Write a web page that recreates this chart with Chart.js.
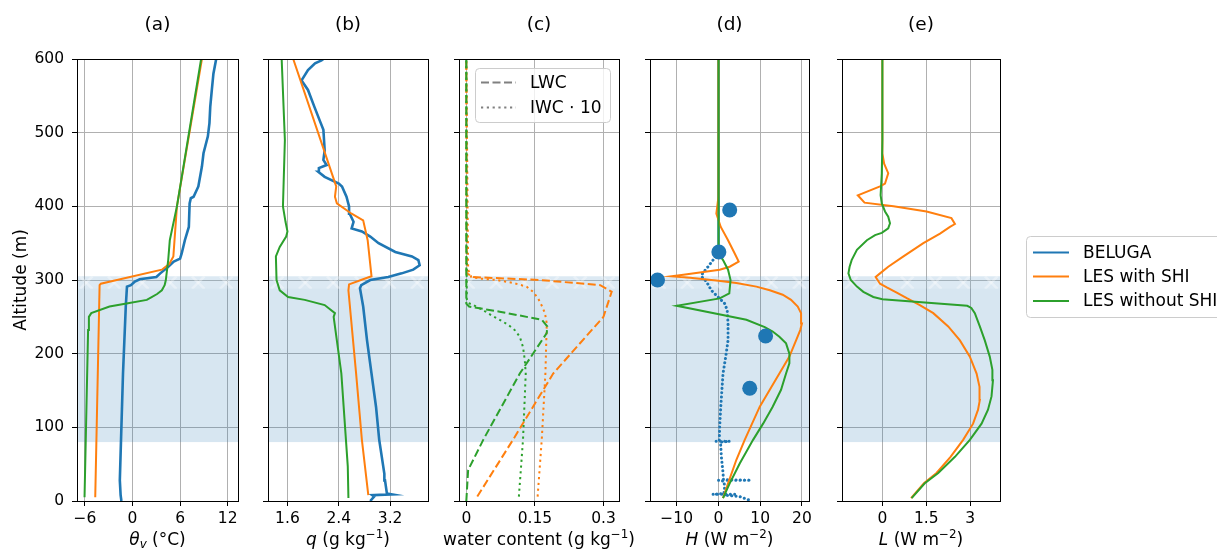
<!DOCTYPE html>
<html>
<head>
<meta charset="utf-8">
<script src="https://cdn.jsdelivr.net/npm/chart.js@4.4.1/dist/chart.umd.min.js"></script>
<style>
  html, body { margin: 0; padding: 0; background: #fff; }
  #wrap { position: relative; width: 1217px; height: 552px; overflow: hidden; }
  #wrap canvas { position: absolute; left: 0; top: 0; }
</style>
</head>
<body>
<div id="wrap"></div>
<script>
// altitude axis and cloud layer (m)
const altTicks = [0, 100, 200, 300, 400, 500, 600];
const cloudBase = 80, hatchBase = 288, cloudTop = 305;

// (a) virtual potential temperature
const thetaTicks = [-6, 0, 6, 12];
const belugaThetaZ = [0, 8, 28, 83, 173, 264, 291, 293, 298, 301, 304, 309, 318, 325, 329, 336, 354, 372, 404, 411, 413, 427, 454, 472, 495, 513, 535, 558, 580, 600];
const belugaThetaV = [-1.4, -1.5, -1.6, -1.45, -1.2, -0.85, -0.7, -0.2, 0.3, 0.9, 3.0, 3.5, 4.5, 5.2, 6.0, 6.2, 6.6, 7.1, 7.2, 7.35, 7.7, 8.3, 8.75, 8.95, 9.5, 9.7, 9.8, 10.0, 10.2, 10.55];
const shiThetaZ = [5, 293, 295, 314, 322, 332, 400, 600];
const shiThetaV = [-4.7, -4.15, -4.0, 3.7, 4.65, 5.15, 5.6, 8.75];
const noThetaZ = [5, 232, 250, 255, 264, 268, 273, 276, 281, 286, 293, 300, 327, 354, 400, 600];
const noThetaV = [-6.05, -5.6, -5.5, -5.2, -2.9, -0.75, 1.8, 2.3, 3.1, 3.7, 4.05, 4.2, 4.5, 4.7, 5.6, 8.65];

// (b) specific humidity
const qTicks = [1.6, 2.4, 3.2];
const belugaQZ = [0, 6, 8, 9, 10, 28, 37, 83, 128, 173, 218, 264, 289, 293, 300, 304, 309, 314, 320, 327, 332, 338, 350, 359, 366, 370, 379, 390, 400, 413, 427, 431, 440, 447, 452, 456, 463, 476, 504, 515, 535, 558, 571, 585, 594, 598, 600];
const belugaQV = [2.89, 2.95, 2.92, 3.22, 3.15, 3.12, 3.11, 3.03, 2.98, 2.91, 2.84, 2.78, 2.73, 2.75, 2.89, 3.17, 3.38, 3.56, 3.66, 3.64, 3.54, 3.28, 3.02, 2.89, 2.76, 2.60, 2.63, 2.57, 2.56, 2.52, 2.45, 2.40, 2.18, 2.08, 2.09, 2.21, 2.16, 2.18, 2.16, 2.11, 2.02, 1.92, 1.82, 1.92, 2.03, 2.13, 2.16];
const shiQZ = [8, 83, 173, 286, 294, 302, 305, 354, 381, 390, 404, 413, 427, 445, 600];
const shiQV = [2.86, 2.76, 2.67, 2.55, 2.56, 2.81, 2.91, 2.85, 2.78, 2.60, 2.37, 2.34, 2.36, 2.29, 1.69];
const noQZ = [4, 47, 173, 250, 255, 266, 273, 277, 286, 300, 332, 345, 359, 366, 379, 400, 490, 600];
const noQV = [2.55, 2.54, 2.44, 2.32, 2.34, 2.18, 1.87, 1.61, 1.48, 1.43, 1.42, 1.48, 1.58, 1.60, 1.57, 1.53, 1.56, 1.51];

// (c) water content (LWC dashed, IWC*10 dotted)
const wcTicks = [0, 0.15, 0.3];
const shiLwcZ = [6, 83, 173, 250, 284, 293, 300, 304, 309, 600];
const shiLwcV = [0.024, 0.102, 0.19, 0.30, 0.318, 0.293, 0.161, 0.015, 0.001, 0];
const shiIwcZ = [6, 83, 173, 241, 255, 264, 275, 284, 291, 296, 300, 302, 304, 314, 600];
const shiIwcV = [0.156, 0.165, 0.173, 0.176, 0.172, 0.166, 0.157, 0.146, 0.132, 0.102, 0.066, 0.029, 0.011, 0.004, 0];
const noLwcZ = [0, 42, 83, 173, 228, 237, 246, 257, 264, 268, 600];
const noLwcV = [0, 0.004, 0.037, 0.117, 0.176, 0.177, 0.165, 0.073, 0.006, 0, 0];
const noIwcZ = [6, 83, 173, 191, 209, 223, 232, 239, 246, 252, 259, 266, 269, 274, 600];
const noIwcV = [0.115, 0.124, 0.130, 0.128, 0.124, 0.117, 0.106, 0.092, 0.073, 0.055, 0.037, 0.015, 0.004, 0.001, 0];

// (d) sensible heat flux
const hTicks = [-10, 0, 10, 20];
const belugaHUpZ = [336, 354, 400, 450, 490, 530, 570, 600];
const belugaHUpV = [0, 0, 0, 0.05, 0.08, 0.05, 0.03, 0];
const belugaHLoZ = [336, 327, 318, 309, 305, 298, 286, 277, 268, 259, 241, 218, 196, 173, 128, 101, 82, 81, 81, 80, 60, 38, 29, 28, 28, 27, 19, 10, 9, 9, 8, 6, 1];
const belugaHLoV = [0, -1.3, -2.5, -3.8, -4.1, -2.9, -1.7, -0.1, 1.5, 2.1, 2.3, 2.3, 1.75, 1.1, 0.56, 0.3, 0.2, -0.6, 2.7, 0.5, 0.7, 1.1, 1.2, 7.8, 0.0, 1.3, 1.5, 1.3, -1.4, 3.9, 1.5, 5.1, 7.5];
const belugaHMeanZ = [395, 338, 300, 224, 153];
const belugaHMeanV = [2.7, 0.1, -14.6, 11.3, 7.5];
const shiHZ = [4, 24, 56, 83, 128, 173, 196, 218, 232, 241, 255, 264, 273, 280, 286, 291, 296, 299, 303, 305, 307, 314, 318, 325, 336, 354, 372, 390, 402, 413, 600];
const shiHV = [1.1, 2.3, 4.3, 6.3, 9.9, 14.6, 17.0, 18.6, 19.6, 20.0, 19.8, 19.0, 17.4, 15.4, 12.3, 9.1, 4.3, 0, -6.8, -11.2, -8.4, 0.3, 2.7, 4.85, 3.9, 2.3, 0.56, -0.5, -0.24, 0, 0];
const noHZ = [4, 24, 51, 83, 105, 128, 151, 173, 187, 200, 214, 223, 230, 236, 246, 265, 275, 282, 300, 314, 327, 336, 354, 400, 600];
const noHV = [1.1, 2.7, 5.1, 8.3, 10.7, 13.0, 15.0, 16.2, 17.0, 17.0, 16.2, 14.6, 13.0, 11.1, 6.7, -10.0, 0.3, 2.6, 2.9, 2.3, 1.1, 0.1, 0, 0.08, 0];

// (e) latent heat flux
const lTicks = [0, 1.5, 3];
const shiLZ = [4, 24, 38, 60, 83, 105, 124, 137, 155, 173, 196, 218, 237, 255, 266, 275, 283, 290, 295, 304, 309, 318, 332, 350, 363, 372, 376, 384, 393, 400, 405, 415, 427, 431, 445, 458, 472, 600];
const shiLV = [0.98, 1.42, 1.85, 2.33, 2.76, 3.10, 3.27, 3.33, 3.32, 3.22, 2.99, 2.65, 2.25, 1.74, 1.28, 0.85, 0.49, 0.15, -0.08, -0.23, -0.08, 0.20, 0.72, 1.40, 1.97, 2.31, 2.48, 2.36, 1.51, 0.38, -0.61, -0.84, -0.08, 0.09, 0.20, 0.06, 0, 0];
const noLZ = [4, 24, 38, 60, 83, 105, 124, 142, 164, 178, 196, 218, 237, 255, 262, 265, 274, 277, 284, 291, 300, 309, 318, 327, 341, 354, 361, 364, 370, 377, 386, 393, 404, 415, 445, 490, 600];
const noLV = [1.0, 1.45, 1.91, 2.48, 2.99, 3.39, 3.61, 3.73, 3.78, 3.76, 3.67, 3.50, 3.33, 3.16, 3.04, 2.90, 0.0, -0.31, -0.65, -0.87, -1.08, -1.16, -1.12, -1.05, -0.87, -0.53, -0.25, -0.02, 0.20, 0.26, 0.20, 0.09, -0.02, -0.06, -0.02, 0, 0];

const seriesNames = ['BELUGA', 'LES with SHI', 'LES without SHI'];

const BLUE = '#1f77b4', ORANGE = '#ff7f0e', GREEN = '#2ca02c', GRAY = '#808080';
const FONT = '"DejaVu Sans", sans-serif';
const W = 1217, H = 552, TOP = 59, BOTTOM = 501, XAXIS_H = 45;
const DASHED = [8, 3.5], DOTTED = [2.2, 3.6];

Chart.defaults.font.family = FONT;
Chart.defaults.color = '#000';

function fmt(v) {
  return v < 0 ? '\u2212' + Math.abs(v) : String(v);
}

function line(z, v, color, extra) {
  return Object.assign({
    data: z.map((y, i) => ({ x: v[i], y: y })),
    showLine: true, borderColor: color, backgroundColor: color,
    borderWidth: 2, pointRadius: 0, fill: false
  }, extra || {});
}

// mini rich text: italic, sub and superscript pieces
function drawRich(ctx, segs, cx, baseline, size) {
  const parts = segs.map(s => {
    const fs = (s.sub || s.sup) ? size * 0.7 : size;
    ctx.font = (s.it ? 'italic ' : '') + fs + 'px ' + FONT;
    return { t: s.t, font: ctx.font, w: ctx.measureText(s.t).width,
             dy: s.sub ? size * 0.2 : (s.sup ? -size * 0.4 : 0) };
  });
  const total = parts.reduce((a, p) => a + p.w, 0);
  let x = cx - total / 2;
  ctx.textAlign = 'left';
  ctx.textBaseline = 'alphabetic';
  ctx.fillStyle = '#000';
  parts.forEach(p => { ctx.font = p.font; ctx.fillText(p.t, x, baseline + p.dy); x += p.w; });
}

function drawLegendBox(ctx, x, y, w, h) {
  ctx.save();
  ctx.beginPath();
  ctx.roundRect(x, y, w, h, 4);
  ctx.fillStyle = 'rgba(255,255,255,0.8)';
  ctx.fill();
  ctx.strokeStyle = '#cccccc';
  ctx.lineWidth = 1;
  ctx.stroke();
  ctx.restore();
}

function drawLegendRows(ctx, rows, x0, x1, tx) {
  ctx.save();
  rows.forEach(r => {
    ctx.beginPath();
    ctx.setLineDash(r.dash || []);
    ctx.strokeStyle = r.color;
    ctx.lineWidth = 2;
    ctx.moveTo(x0, r.y);
    ctx.lineTo(x1, r.y);
    ctx.stroke();
    ctx.setLineDash([]);
    ctx.font = '17px ' + FONT;
    ctx.fillStyle = '#000';
    ctx.textAlign = 'left';
    ctx.textBaseline = 'middle';
    ctx.fillText(r.text, tx, r.y + 1);
  });
  ctx.restore();
}

const panelDecor = {
  id: 'panelDecor',
  beforeDatasetsDraw(chart) {
    const { ctx, chartArea: a, scales: { y } } = chart;
    const yTop = y.getPixelForValue(cloudTop);
    const yHatch = y.getPixelForValue(hatchBase);
    const yBot = y.getPixelForValue(cloudBase);
    ctx.save();
    ctx.beginPath();
    ctx.rect(a.left, a.top, a.width, a.height);
    ctx.clip();
    ctx.fillStyle = 'rgba(31,119,180,0.18)';
    ctx.fillRect(a.left, yTop, a.width, yBot - yTop);
    // hatched strip at cloud top
    ctx.beginPath();
    ctx.rect(a.left, yTop, a.width, yHatch - yTop);
    ctx.clip();
    ctx.fillStyle = 'rgba(255,255,255,0.12)';
    ctx.fillRect(a.left, yTop, a.width, yHatch - yTop);
    const h = yHatch - yTop, step = 28;
    ctx.strokeStyle = 'rgba(255,255,255,0.35)';
    ctx.lineWidth = 2.5;
    for (let x = a.left - 2 * h; x < a.right + 2 * h; x += step) {
      ctx.beginPath(); ctx.moveTo(x, yHatch); ctx.lineTo(x + h, yTop); ctx.stroke();
      ctx.beginPath(); ctx.moveTo(x, yTop); ctx.lineTo(x + h, yHatch); ctx.stroke();
    }
    ctx.restore();
  },
  afterDatasetsDraw(chart) {
    const { ctx, chartArea: a } = chart;
    ctx.save();
    ctx.strokeStyle = '#000';
    ctx.lineWidth = 1;
    ctx.strokeRect(Math.round(a.left) + 0.5, Math.round(a.top) + 0.5,
                   Math.round(a.right) - Math.round(a.left), Math.round(a.bottom) - Math.round(a.top));
    ctx.restore();
  },
  afterDraw(chart, args, o) {
    const { ctx, chartArea: a } = chart;
    const cx = (a.left + a.right) / 2;
    ctx.save();
    ctx.font = '18.5px ' + FONT;
    ctx.fillStyle = '#000';
    ctx.textAlign = 'center';
    ctx.textBaseline = 'alphabetic';
    ctx.fillText(o.title, cx, 30);
    drawRich(ctx, o.xlabel, cx, 545, 17);
    if (o.ylabel) {
      ctx.translate(22, (a.top + a.bottom) / 2);
      ctx.rotate(-Math.PI / 2);
      ctx.font = '17px ' + FONT;
      ctx.textAlign = 'center';
      ctx.textBaseline = 'middle';
      ctx.fillText(o.ylabel, 0, 0);
    }
    ctx.restore();
    if (o.wcLegend) {
      drawLegendBox(ctx, 475.5, 68.5, 135, 54);
      drawLegendRows(ctx, [
        { text: 'LWC', color: GRAY, dash: DASHED, y: 82.5 },
        { text: 'IWC \u22c5 10', color: GRAY, dash: DOTTED, y: 107.5 }
      ], 481, 516, 530);
    }
    if (o.mainLegend) {
      drawLegendBox(ctx, 1026.5, 236.5, 200, 81);
      drawLegendRows(ctx, [
        { text: seriesNames[0], color: BLUE, y: 252.5 },
        { text: seriesNames[1], color: ORANGE, y: 276.5 },
        { text: seriesNames[2], color: GREEN, y: 301 }
      ], 1033, 1069, 1083);
    }
  }
};

function makePanel(left, right, xMin, xMax, xTicks, datasets, deco, showY) {
  const canvas = document.createElement('canvas');
  canvas.width = W;
  canvas.height = H;
  document.getElementById('wrap').appendChild(canvas);
  const yw = showY ? left : 10;
  const gridOpts = { color: '#b0b0b0', lineWidth: 1, tickColor: '#000', tickLength: 5, tickWidth: 1 };
  return new Chart(canvas, {
    type: 'scatter',
    data: { datasets: datasets },
    options: {
      responsive: false,
      animation: false,
      events: [],
      layout: { padding: { left: left - yw, right: W - right, top: TOP, bottom: H - BOTTOM - XAXIS_H } },
      plugins: { legend: { display: false }, tooltip: { enabled: false }, panelDecor: deco },
      scales: {
        x: {
          type: 'linear', position: 'bottom', min: xMin, max: xMax,
          afterBuildTicks: s => { s.ticks = xTicks.map(v => ({ value: v })); },
          afterFit: s => { s.height = XAXIS_H; },
          ticks: { callback: fmt, font: { size: 15.5 }, color: '#000', padding: 4, maxRotation: 0, autoSkip: false },
          grid: gridOpts,
          border: { display: false }
        },
        y: {
          type: 'linear', position: 'left', min: 0, max: 600,
          afterBuildTicks: s => { s.ticks = altTicks.map(v => ({ value: v })); },
          afterFit: s => { s.width = yw; },
          ticks: { display: showY, callback: fmt, font: { size: 15.5 }, color: '#000', padding: 8 },
          grid: gridOpts,
          border: { display: false }
        }
      }
    },
    plugins: [panelDecor]
  });
}

// (a)
makePanel(77, 238, -7.0, 13.3, thetaTicks, [
  line(noThetaZ, noThetaV, GREEN, { order: 1 }),
  line(shiThetaZ, shiThetaV, ORANGE, { order: 2 }),
  line(belugaThetaZ, belugaThetaV, BLUE, { order: 3, borderWidth: 2.6 })
], { title: '(a)', ylabel: 'Altitude (m)',
     xlabel: [{ t: '\u03b8', it: true }, { t: 'v', it: true, sub: true }, { t: ' (\u00b0C)' }] }, true);

// (b)
makePanel(268, 428, 1.297, 3.79, qTicks, [
  line(noQZ, noQV, GREEN, { order: 1 }),
  line(shiQZ, shiQV, ORANGE, { order: 2 }),
  line(belugaQZ, belugaQV, BLUE, { order: 3, borderWidth: 2.6 })
], { title: '(b)',
     xlabel: [{ t: 'q', it: true }, { t: ' (g kg' }, { t: '\u22121', sup: true }, { t: ')' }] }, false);

// (c)
makePanel(459, 619, -0.016, 0.334, wcTicks, [
  line(noLwcZ, noLwcV, GREEN, { order: 1, borderDash: DASHED }),
  line(noIwcZ, noIwcV, GREEN, { order: 2, borderDash: DOTTED }),
  line(shiLwcZ, shiLwcV, ORANGE, { order: 3, borderDash: DASHED }),
  line(shiIwcZ, shiIwcV, ORANGE, { order: 4, borderDash: DOTTED })
], { title: '(c)', wcLegend: true,
     xlabel: [{ t: 'water content (g kg' }, { t: '\u22121', sup: true }, { t: ')' }] }, false);

// (d)
makePanel(650, 809, -16.4, 21.7, hTicks, [
  line(belugaHMeanZ, belugaHMeanV, BLUE, { order: 0, showLine: false, pointRadius: 7.5, borderWidth: 0 }),
  line(noHZ, noHV, GREEN, { order: 1 }),
  line(shiHZ, shiHV, ORANGE, { order: 2 }),
  line(belugaHUpZ, belugaHUpV, BLUE, { order: 3, borderWidth: 2.4 }),
  line(belugaHLoZ, belugaHLoV, BLUE, { order: 4, borderWidth: 3, borderDash: [0.1, 4.2], borderCapStyle: 'round' })
], { title: '(d)',
     xlabel: [{ t: 'H', it: true }, { t: ' (W m' }, { t: '\u22122', sup: true }, { t: ')' }] }, false);

// (e)
makePanel(842, 1000, -1.38, 4.02, lTicks, [
  line(noLZ, noLV, GREEN, { order: 1 }),
  line(shiLZ, shiLV, ORANGE, { order: 2 })
], { title: '(e)', mainLegend: true,
     xlabel: [{ t: 'L', it: true }, { t: ' (W m' }, { t: '\u22122', sup: true }, { t: ')' }] }, false);
</script>
</body>
</html>
